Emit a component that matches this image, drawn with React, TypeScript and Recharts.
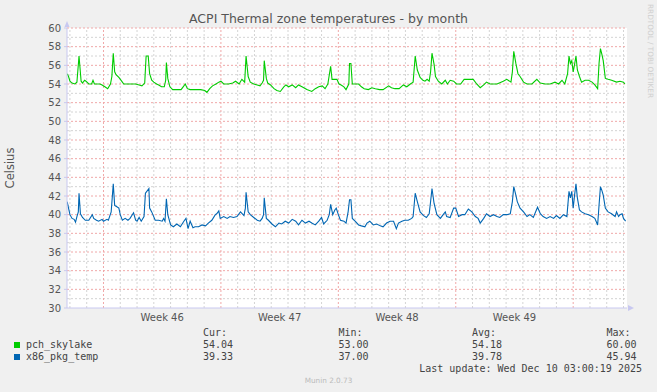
import { LineChart, Line, XAxis, YAxis, CartesianGrid, ReferenceLine, ReferenceDot } from "recharts";

// hours relative to Monday of week 46 (0h), 4-ish hour samples
const pchHours = [
  -52, -50, -48, -45, -41, -38, -35, -32, -30, -27, -25, -21, -17, -15, -13, -9, -5, -2, 2, 6,
  10, 12, 14, 16, 18, 22, 26, 29, 34, 41, 46, 51, 55, 59, 61, 64, 66, 69, 72, 76,
  79, 83, 87, 89, 90, 92, 95, 99, 105, 111, 114, 117, 120, 124, 131, 139, 145, 148, 152, 156,
  161, 165, 168, 172, 179, 185, 189, 194, 198, 202, 204, 207, 210, 215, 220, 224, 227, 229, 230, 233,
  235, 239, 244, 248, 253, 258, 261, 265, 270, 275, 279, 284, 291, 298, 303, 308, 313, 317, 321, 325,
  327, 331, 334, 337, 340, 344, 347, 351, 352, 354, 356, 360, 365, 369, 373, 379, 384, 389, 395, 400,
  408, 412, 417, 423, 429, 434, 439, 443, 446, 449, 453, 457, 460, 463, 466, 468, 470, 473, 475, 479,
  484, 489, 492, 496, 501, 505, 511, 516, 522, 529, 534, 539, 544, 548, 553, 563, 572, 577, 583, 585,
  587, 590, 593, 596, 601, 606, 613, 620, 625, 632, 639, 646, 651, 656, 660, 664, 666, 668, 670, 672,
  674, 676, 678, 681, 684, 689, 694, 699, 703, 707, 709, 711, 713, 715, 718, 722, 727, 734, 739, 744,
  746,
];
const pchTemp = [
  55.1, 54.8, 54.3, 54.1, 54.0, 54.2, 57.0, 54.3, 54.1, 54.4, 54.3, 54.0, 54.0, 54.4, 54.0, 54.0, 54.0, 53.9, 53.7, 53.5,
  54.0, 54.8, 57.3, 55.3, 55.0, 54.7, 54.3, 54.0, 54.0, 54.0, 54.0, 53.9, 53.8, 54.1, 57.0, 57.0, 55.1, 54.4, 54.2, 54.0,
  53.9, 53.7, 53.7, 54.4, 56.3, 54.6, 53.7, 53.4, 53.4, 53.4, 53.7, 54.0, 53.5, 53.4, 53.4, 53.4, 53.3, 53.1, 53.5, 53.8,
  54.0, 54.2, 54.3, 54.0, 54.0, 54.1, 54.3, 54.0, 54.5, 54.2, 57.0, 54.8, 54.2, 54.0, 53.9, 53.8, 54.1, 54.4, 56.5, 54.6,
  54.1, 53.9, 53.5, 53.3, 53.2, 53.7, 53.9, 53.7, 53.9, 53.6, 53.9, 53.7, 53.4, 53.2, 53.5, 53.7, 53.8, 53.5, 54.0, 55.9,
  54.5, 54.5, 54.5, 54.0, 53.9, 53.7, 53.4, 54.0, 56.2, 56.2, 54.0, 54.0, 54.0, 53.7, 53.5, 53.4, 53.6, 53.5, 53.4, 53.4,
  53.8, 53.6, 53.5, 53.5, 53.9, 53.7, 54.0, 54.2, 57.0, 55.5, 54.7, 54.4, 54.3, 54.5, 54.3, 55.3, 57.3, 56.1, 54.8, 54.3,
  54.0, 54.4, 54.0, 54.4, 54.3, 54.0, 54.0, 54.5, 54.5, 54.5, 54.0, 53.6, 53.9, 54.2, 54.0, 54.0, 54.3, 54.5, 54.2, 55.3,
  57.5, 56.2, 55.1, 54.8, 54.2, 54.0, 54.0, 54.5, 54.1, 54.0, 54.0, 54.2, 54.0, 54.4, 54.0, 55.1, 57.0, 56.2, 56.5, 55.3,
  56.1, 57.0, 55.5, 54.8, 54.2, 54.4, 54.4, 54.2, 53.9, 53.5, 56.2, 57.8, 57.2, 56.5, 54.6, 54.5, 54.4, 54.2, 54.3, 54.2,
  54.0,
];

const x86Hours = [
  -52, -50, -48, -45, -42, -40, -38, -36, -35, -33, -30, -26, -21, -16, -14, -10, -7, -2, 0, 5,
  7, 11, 14, 16, 18, 22, 24, 27, 31, 35, 38, 43, 46, 48, 51, 54, 58, 60, 62, 65,
  66, 69, 74, 79, 84, 86, 88, 90, 92, 96, 100, 105, 110, 115, 118, 121, 124, 128, 131, 136,
  141, 146, 150, 155, 160, 162, 165, 167, 172, 177, 181, 186, 191, 196, 201, 203, 204, 207, 210, 215,
  220, 224, 227, 229, 230, 233, 236, 241, 246, 251, 255, 260, 265, 270, 275, 279, 284, 289, 294, 298,
  303, 308, 312, 315, 320, 323, 325, 328, 331, 333, 336, 339, 344, 347, 350, 352, 354, 356, 360, 365,
  369, 374, 377, 381, 386, 391, 396, 400, 405, 410, 415, 419, 422, 427, 431, 436, 441, 443, 446, 449,
  453, 458, 462, 466, 468, 470, 473, 477, 482, 486, 489, 491, 496, 501, 504, 508, 513, 517, 522, 527,
  532, 536, 539, 544, 548, 553, 558, 563, 567, 572, 577, 582, 585, 587, 590, 592, 596, 601, 606, 610,
  615, 621, 625, 629, 634, 639, 644, 648, 653, 658, 663, 666, 668, 670, 672, 674, 676, 678, 681, 684,
  689, 694, 699, 703, 707, 709, 711, 713, 715, 718, 722, 727, 732, 734, 737, 739, 742, 744, 747,
];
const x86Temp = [
  41.4, 40.7, 40.0, 39.6, 39.5, 39.2, 39.8, 40.3, 42.3, 40.1, 39.7, 39.4, 39.4, 40.0, 39.6, 39.4, 39.3, 39.5, 39.3, 39.5,
  39.4, 40.3, 43.3, 41.0, 40.9, 40.7, 40.0, 39.4, 39.6, 39.4, 39.6, 40.2, 39.4, 39.3, 39.7, 39.3, 39.8, 42.3, 42.5, 42.8,
  40.7, 40.3, 39.4, 39.4, 39.3, 39.6, 39.3, 41.7, 40.0, 38.9, 38.7, 39.0, 38.7, 39.3, 39.6, 38.5, 39.3, 38.6, 38.7, 38.7,
  38.9, 38.8, 39.1, 39.4, 40.0, 40.1, 40.4, 39.6, 39.8, 39.6, 39.8, 39.7, 39.8, 40.3, 39.9, 40.7, 42.4, 40.3, 40.0, 39.7,
  39.4, 39.3, 39.6, 40.0, 41.8, 39.6, 39.4, 39.0, 38.7, 39.1, 39.0, 39.3, 39.1, 39.5, 39.3, 38.9, 39.4, 39.1, 39.3, 39.1,
  38.9, 39.3, 39.7, 39.0, 39.4, 40.0, 41.1, 40.0, 40.5, 40.7, 40.0, 39.4, 39.3, 39.1, 40.3, 41.6, 41.6, 39.6, 39.3, 38.9,
  38.8, 38.7, 39.1, 39.3, 38.9, 39.0, 38.8, 38.7, 39.1, 39.3, 39.3, 38.5, 39.1, 39.3, 39.4, 39.4, 39.6, 39.8, 42.3, 41.4,
  40.3, 39.9, 39.7, 40.1, 41.4, 42.8, 41.2, 40.0, 39.6, 40.0, 40.3, 39.8, 39.7, 40.7, 40.7, 39.8, 40.0, 40.0, 40.6, 40.3,
  39.8, 39.6, 39.1, 39.6, 40.1, 39.8, 40.0, 39.8, 39.7, 40.0, 40.0, 40.1, 41.4, 43.0, 42.1, 41.4, 40.7, 40.3, 39.8, 40.0,
  39.7, 40.8, 40.1, 39.8, 39.6, 39.8, 39.6, 39.9, 39.6, 40.0, 39.8, 42.5, 41.8, 42.5, 40.7, 42.1, 43.3, 41.8, 40.5, 40.3,
  40.1, 40.0, 39.8, 39.6, 38.9, 41.0, 43.0, 42.6, 42.1, 40.7, 40.3, 40.1, 39.8, 40.3, 39.8, 40.0, 40.1, 39.6, 39.3,
];

const weekStarts = [0, 168, 336, 504, 672];
const weekMids = [84, 252, 420, 588];
const weekLabels = ["Week 46", "Week 47", "Week 48", "Week 49"];
const dayLines = [-48, -24, 24, 48, 72, 96, 120, 144, 192, 216, 240, 264, 288, 312, 360, 384, 408, 432, 456, 480,
  528, 552, 576, 600, 624, 648, 696, 720, 744];
const yTicks = [30, 32, 34, 36, 38, 40, 42, 44, 46, 48, 50, 52, 54, 56, 58, 60];
const yMinor = [31, 33, 35, 37, 39, 41, 43, 45, 47, 49, 51, 53, 55, 57, 59];

const seriesNames = ["pch_skylake", "x86_pkg_temp"];
const seriesColors = ["#00cc00", "#0066b3"];
const curVals = ["54.04", "39.33"];
const minVals = ["53.00", "37.00"];
const avgVals = ["54.18", "39.78"];
const maxVals = ["60.00", "45.94"];

const X_MIN = -52.2;
const X_MAX = 749;

const pchData = pchHours.map((h, i) => ({ h, v: pchTemp[i] }));
const x86Data = x86Hours.map((h, i) => ({ h, v: x86Temp[i] }));

const SANS = "'DejaVu Sans', sans-serif";
const MONO = "'DejaVu Sans Mono', monospace";
const AXIS = "#c8c8f0";
const GRID_MINOR = "#d4d4d4";
const GRID_MAJOR = "#f0a8a8";

function ArrowUp(props: any) {
  const { cx, cy } = props;
  return <polygon points={`${cx - 2.5},${cy - 1} ${cx + 2.5},${cy - 1} ${cx},${cy - 7}`} fill={AXIS} />;
}
function ArrowRight(props: any) {
  const { cx, cy } = props;
  return <polygon points={`${cx + 1},${cy - 3} ${cx + 1},${cy + 3} ${cx + 7},${cy}`} fill={AXIS} />;
}

export default function App() {
  const legendCols = [
    { title: "Cur:", left: 203, vals: curVals },
    { title: "Min:", left: 338.5, vals: minVals },
    { title: "Avg:", left: 472, vals: avgVals },
    { title: "Max:", left: 606.5, vals: maxVals },
  ];
  const txt = (extra: React.CSSProperties): React.CSSProperties => ({
    position: "absolute", whiteSpace: "nowrap", ...extra,
  });

  return (
    <div style={{ position: "absolute", left: 0, top: 0, width: 657, height: 392, background: "#f0f0f0", overflow: "hidden" }}>
      <LineChart width={657} height={392} data={pchData} margin={{ top: 28, right: 30, bottom: 64, left: 0 }}>
        <CartesianGrid fill="#ffffff" horizontal={false} vertical={false} />
        {dayLines.map((d) => (
          <ReferenceLine key={`d${d}`} x={d} stroke={GRID_MINOR} strokeDasharray="2 2" />
        ))}
        {yMinor.map((v) => (
          <ReferenceLine key={`ym${v}`} y={v} stroke={GRID_MINOR} strokeDasharray="2 2" />
        ))}
        {yTicks.filter((v) => v > 30).map((v) => (
          <ReferenceLine key={`y${v}`} y={v} stroke={GRID_MAJOR} strokeDasharray="2 2" />
        ))}
        {weekStarts.map((w) => (
          <ReferenceLine key={`w${w}`} x={w} stroke={GRID_MAJOR} strokeDasharray="2 2" />
        ))}
        <XAxis
          type="number"
          dataKey="h"
          domain={[X_MIN, X_MAX]}
          allowDataOverflow
          ticks={weekMids}
          tickFormatter={(v: number) => weekLabels[weekMids.indexOf(v)] ?? ""}
          height={20}
          axisLine={{ stroke: AXIS }}
          tickLine={false}
          tickMargin={0}
          tick={{ fontSize: 10, fill: "#555", fontFamily: SANS }}
        />
        <YAxis
          type="number"
          domain={[30, 60]}
          ticks={yTicks}
          interval={0}
          width={67}
          axisLine={{ stroke: AXIS }}
          tickLine={{ stroke: AXIS }}
          tickSize={3}
          tickMargin={3}
          tick={{ fontSize: 10, fill: "#555", fontFamily: SANS }}
        />
        <Line data={pchData} dataKey="v" type="linear" stroke={seriesColors[0]} strokeWidth={1.1} dot={false} isAnimationActive={false} />
        <Line data={x86Data} dataKey="v" type="linear" stroke={seriesColors[1]} strokeWidth={1.1} dot={false} isAnimationActive={false} />
        <ReferenceDot x={X_MIN} y={60} r={0} shape={<ArrowUp />} ifOverflow="visible" />
        <ReferenceDot x={X_MAX} y={30} r={0} shape={<ArrowRight />} ifOverflow="visible" />
      </LineChart>

      <div style={txt({ left: 0, top: 12, width: 657, textAlign: "center", fontFamily: SANS, fontSize: 12.5, lineHeight: "14px", color: "#555" })}>
        ACPI Thermal zone temperatures - by month
      </div>
      <div style={txt({ left: 10, top: 168, transform: "translate(-50%, -50%) rotate(-90deg)", fontFamily: SANS, fontSize: 11.5, color: "#555" })}>
        Celsius
      </div>
      <div style={txt({ left: 650, top: 51, transform: "translate(-50%, -50%) rotate(90deg)", fontFamily: SANS, fontSize: 7.3, color: "#cfcfcf" })}>
        RRDTOOL / TOBI OETIKER
      </div>

      {legendCols.map((c) => (
        <div key={c.title}>
          <div style={txt({ left: c.left, top: 327, fontFamily: MONO, fontSize: 10, lineHeight: "12px", color: "#444" })}>{c.title}</div>
          {c.vals.map((v, i) => (
            <div key={i} style={txt({ left: c.left, top: 338.5 + i * 12.3, fontFamily: MONO, fontSize: 10, lineHeight: "12px", color: "#444" })}>{v}</div>
          ))}
        </div>
      ))}
      {seriesNames.map((n, i) => (
        <div key={n}>
          <div style={{ position: "absolute", left: 14, top: 341.5 + i * 12.3, width: 6, height: 6, background: seriesColors[i] }} />
          <div style={txt({ left: 26, top: 338.5 + i * 12.3, fontFamily: MONO, fontSize: 10, lineHeight: "12px", color: "#444" })}>{n}</div>
        </div>
      ))}
      <div style={txt({ right: 15, top: 363, fontFamily: MONO, fontSize: 10, lineHeight: "12px", color: "#444" })}>
        Last update: Wed Dec 10 03:00:19 2025
      </div>
      <div style={txt({ left: 0, width: 657, top: 376, textAlign: "center", fontFamily: SANS, fontSize: 7.3, lineHeight: "9px", color: "#bbb" })}>
        Munin 2.0.73
      </div>
    </div>
  );
}
